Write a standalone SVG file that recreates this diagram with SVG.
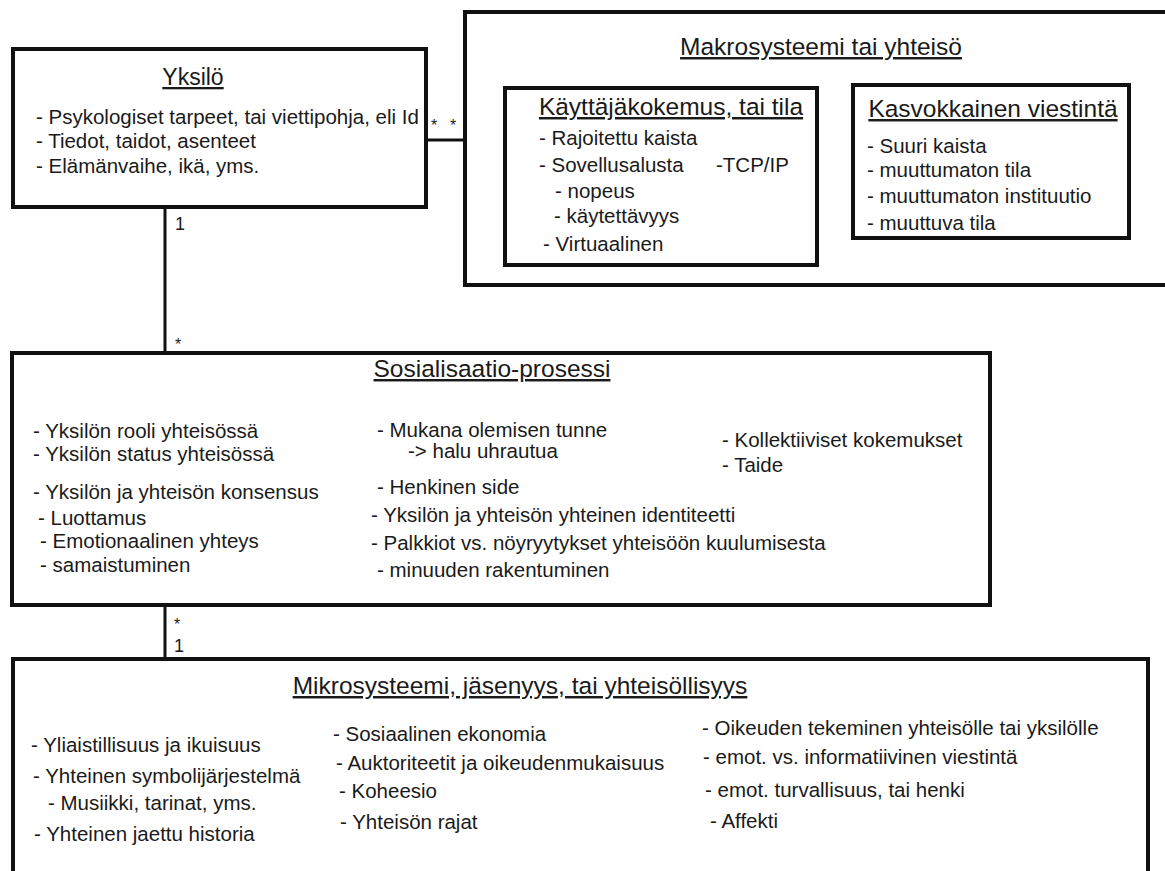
<svg xmlns="http://www.w3.org/2000/svg" width="1165" height="871" viewBox="0 0 1165 871">
<style>
  .box { fill: none; stroke: #111; stroke-width: 4; }
  .conn { stroke: #111; stroke-width: 3; fill: none; }
  text { font-family: "Liberation Sans", Arial, sans-serif; fill: #1a1a1a; }
  .t { font-size: 20.5px; }
  .h { font-size: 24.5px; text-decoration: underline; text-anchor: middle; }
  .m { font-size: 18px; }
  .s { font-size: 16px; }
</style>
<rect x="0" y="0" width="1165" height="871" fill="#fff"/>

<g id="connectors">
  <line class="conn" x1="426" y1="140" x2="465" y2="140"/>
  <line class="conn" x1="165" y1="207" x2="165" y2="353"/>
  <line class="conn" x1="165" y1="605" x2="165" y2="659"/>
  <text class="s" x="431" y="131">*</text>
  <text class="s" x="450" y="131">*</text>
  <text class="m" x="175" y="230">1</text>
  <text class="s" x="175" y="350">*</text>
  <text class="s" x="174" y="630">*</text>
  <text class="m" x="174" y="652">1</text>
</g>

<g id="yksilo">
  <rect class="box" x="13" y="49" width="413" height="158"/>
  <text class="h" x="193" y="85" style="font-size:23px">Yksilö</text>
  <text class="t" x="36" y="124">- Psykologiset tarpeet, tai viettipohja, eli Id</text>
  <text class="t" x="36" y="148">- Tiedot, taidot, asenteet</text>
  <text class="t" x="36" y="173">- Elämänvaihe, ikä, yms.</text>
</g>

<g id="makrosysteemi">
  <rect class="box" x="465" y="12" width="720" height="273"/>
  <text class="h" x="821" y="55">Makrosysteemi tai yhteisö</text>
</g>

<g id="kayttajakokemus">
  <rect class="box" x="505" y="88" width="312" height="177"/>
  <text class="h" x="671" y="115">Käyttäjäkokemus, tai tila</text>
  <text class="t" x="539" y="145">- Rajoitettu kaista</text>
  <text class="t" x="539" y="172">- Sovellusalusta</text>
  <text class="t" x="716" y="172">-TCP/IP</text>
  <text class="t" x="555" y="198">- nopeus</text>
  <text class="t" x="554" y="223">- käytettävyys</text>
  <text class="t" x="543" y="251">- Virtuaalinen</text>
</g>

<g id="kasvokkainen">
  <rect class="box" x="853" y="85" width="276" height="153"/>
  <text class="h" x="993" y="117">Kasvokkainen viestintä</text>
  <text class="t" x="867" y="153">- Suuri kaista</text>
  <text class="t" x="867" y="177">- muuttumaton tila</text>
  <text class="t" x="867" y="203">- muuttumaton instituutio</text>
  <text class="t" x="867" y="230">- muuttuva tila</text>
</g>

<g id="sosialisaatio">
  <rect class="box" x="12" y="353" width="978" height="252"/>
  <text class="h" x="492" y="377">Sosialisaatio-prosessi</text>
  <text class="t" x="33" y="438">- Yksilön rooli yhteisössä</text>
  <text class="t" x="33" y="461">- Yksilön status yhteisössä</text>
  <text class="t" x="33" y="499">- Yksilön ja yhteisön konsensus</text>
  <text class="t" x="38" y="525">- Luottamus</text>
  <text class="t" x="40" y="548">- Emotionaalinen yhteys</text>
  <text class="t" x="40" y="572">- samaistuminen</text>
  <text class="t" x="377" y="437">- Mukana olemisen tunne</text>
  <text class="t" x="408" y="458">-&gt; halu uhrautua</text>
  <text class="t" x="377" y="494">- Henkinen side</text>
  <text class="t" x="371" y="522">- Yksilön ja yhteisön yhteinen identiteetti</text>
  <text class="t" x="371" y="550">- Palkkiot vs. nöyryytykset yhteisöön kuulumisesta</text>
  <text class="t" x="377" y="577">- minuuden rakentuminen</text>
  <text class="t" x="722" y="447">- Kollektiiviset kokemukset</text>
  <text class="t" x="722" y="472">- Taide</text>
</g>

<g id="mikrosysteemi">
  <rect class="box" x="13" y="659" width="1135" height="240"/>
  <text class="h" x="520" y="694">Mikrosysteemi, jäsenyys, tai yhteisöllisyys</text>
  <text class="t" x="31" y="752">- Yliaistillisuus ja ikuisuus</text>
  <text class="t" x="33" y="783">- Yhteinen symbolijärjestelmä</text>
  <text class="t" x="48" y="810">- Musiikki, tarinat, yms.</text>
  <text class="t" x="34" y="841">- Yhteinen jaettu historia</text>
  <text class="t" x="333" y="741">- Sosiaalinen ekonomia</text>
  <text class="t" x="336" y="770">- Auktoriteetit ja oikeudenmukaisuus</text>
  <text class="t" x="339" y="798">- Koheesio</text>
  <text class="t" x="340" y="829">- Yhteisön rajat</text>
  <text class="t" x="702" y="735">- Oikeuden tekeminen yhteisölle tai yksilölle</text>
  <text class="t" x="703" y="764">- emot. vs. informatiivinen viestintä</text>
  <text class="t" x="705" y="797">- emot. turvallisuus, tai henki</text>
  <text class="t" x="710" y="828">- Affekti</text>
</g>
</svg>
